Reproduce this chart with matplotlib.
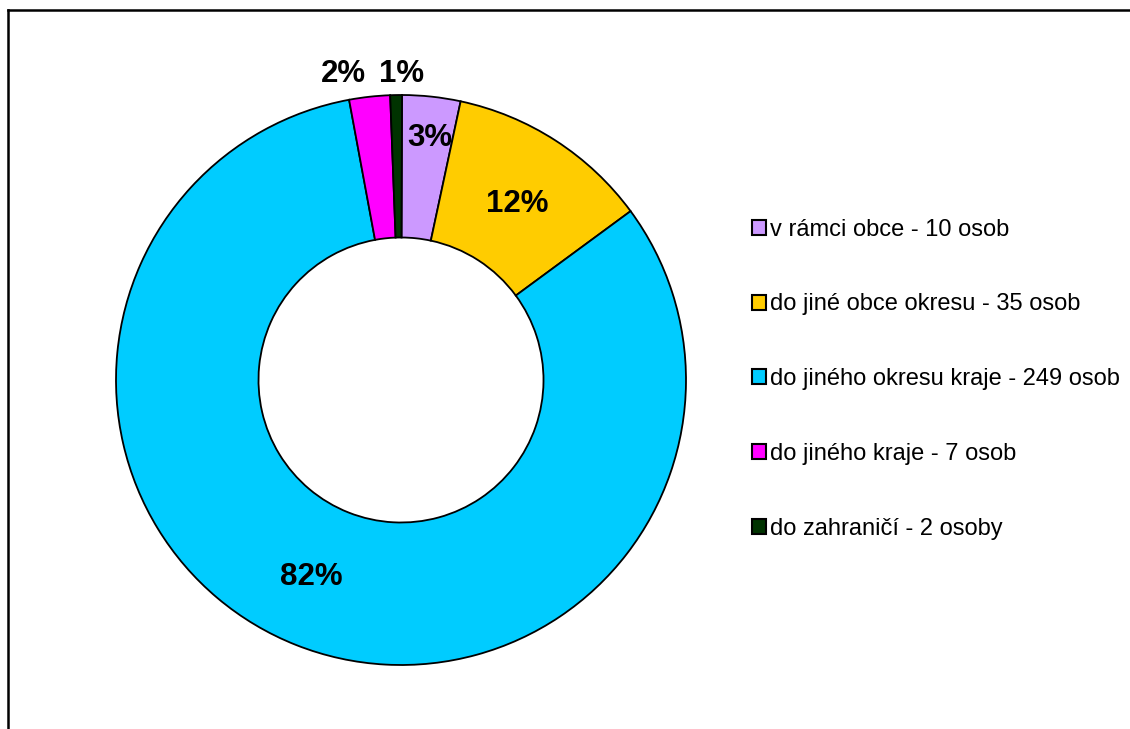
import numpy as np
import matplotlib
matplotlib.use("Agg")
import matplotlib.pyplot as plt
from matplotlib.patches import Rectangle
from matplotlib.lines import Line2D

labels = ["v rámci obce - 10 osob", "do jiné obce okresu - 35 osob",
          "do jiného okresu kraje - 249 osob", "do jiného kraje - 7 osob",
          "do zahraničí - 2 osoby"]
values = [10, 35, 249, 7, 2]
pct_labels = ["3%", "12%", "82%", "2%", "1%"]
colors = ["#CC99FF", "#FFCC00", "#00CCFF", "#FF00FF", "#003300"]

W, H = 1130, 729
fig = plt.figure(figsize=(W / 100, H / 100), dpi=100)
plt.rcParams['font.family'] = ['Liberation Sans', 'DejaVu Sans']

cx, cy, R = 401, 380, 285
ax = fig.add_axes([(cx - R) / W, (H - cy - R) / H, 2 * R / W, 2 * R / H])
wedges, _ = ax.pie(values, colors=colors, startangle=89.8, counterclock=False,
                   radius=1.0, wedgeprops=dict(width=0.5, edgecolor='black', linewidth=1.3))
ax.set_xlim(-1, 1)
ax.set_ylim(-1, 1)
ax.set_aspect('equal')
ax.axis('off')

ydrop = 0.011  # small vertical correction so glyphs sit centered
# label placement: radial distance and small angular offset per label
dists = [0.866, 0.75, 0.75]
ang_off = [-0.6, 0.0, -3.1]
for w, lab, d, da in zip(wedges[:3], pct_labels[:3], dists, ang_off):
    ang = np.deg2rad((w.theta1 + w.theta2) / 2 + da)
    ax.text(d * np.cos(ang), d * np.sin(ang) - ydrop, lab, ha='center', va='center',
            fontsize=22.5, fontweight='bold')
# outside labels above the ring
ax.text(-0.203, 1.085 - ydrop, pct_labels[3], ha='center', va='center', fontsize=22.5, fontweight='bold', clip_on=False)
ax.text(0.003, 1.085 - ydrop, pct_labels[4], ha='center', va='center', fontsize=22.5, fontweight='bold', clip_on=False)

handles = [Rectangle((0, 0), 1, 1, facecolor=c, edgecolor='black', linewidth=1.5) for c in colors]
fig.legend(handles, labels, loc='upper left', bbox_to_anchor=(752 / W, 1 - 218.5 / H),
           frameon=False, fontsize=17, handlelength=0.6, handleheight=0.6,
           handletextpad=0.17, labelspacing=2.24, borderpad=0, borderaxespad=0)

# chart frame (partially visible)
fig.add_artist(Line2D([8 / W, 8 / W], [0, 1 - 10 / H], color='black', linewidth=1.8))
fig.add_artist(Line2D([8 / W, 1], [1 - 10 / H, 1 - 10 / H], color='black', linewidth=1.8))

fig.savefig("out.png", dpi=100)
